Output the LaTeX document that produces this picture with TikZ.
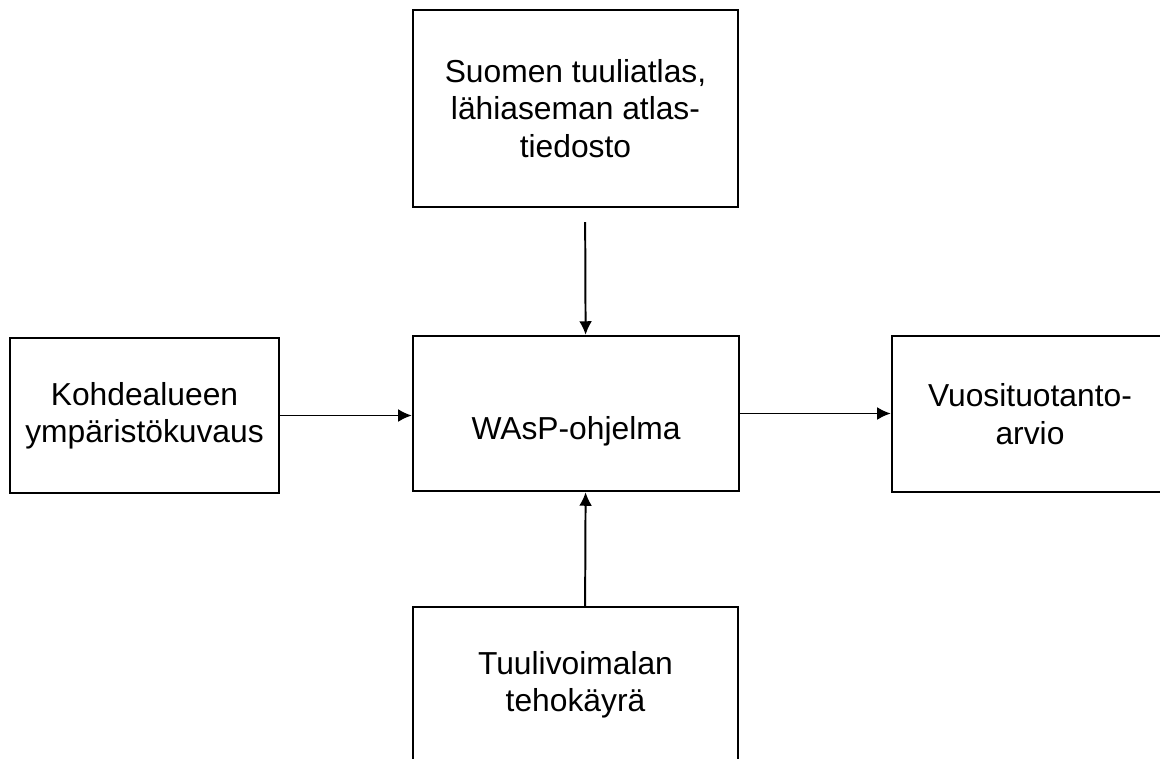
\documentclass[tikz,border=0pt]{standalone}
\usepackage{fontspec}
\setmainfont{Liberation Sans}
\usetikzlibrary{arrows.meta}
\begin{document}
\begin{tikzpicture}[x=0.025cm,y=-0.025cm,
  box/.style={draw, rectangle, line width=1.6pt, align=center, inner sep=0pt,
    font=\fontsize{22.6pt}{26.6pt}\selectfont},
  arr/.style={line width=1.4pt, -{Latex[length=0.34cm,width=0.32cm]}}]
\useasboundingbox[fill=white] (0,0) rectangle (1160,758);
\node[box, minimum width=8.125cm, minimum height=4.925cm] (atlas) at (575.5,108.5) {Suomen tuuliatlas,\\lähiaseman atlas-\\tiedosto};
\node[box, minimum width=8.15cm, minimum height=3.875cm] (wasp) at (576,413.5) {\raisebox{-0.66cm}[0pt][0pt]{WAsP-ohjelma}};
\node[box, minimum width=6.725cm, minimum height=3.875cm] (kohde) at (144.5,415.5) {Kohdealueen\\ympäristökuvaus};
\node[box, minimum width=6.9cm, minimum height=3.9cm] (vuosi) at (1030,414) {Vuosituotanto-\\arvio};
\node[box, minimum width=8.125cm, minimum height=3.9cm] (tuuli) at (575.5,685) {Tuulivoimalan\\tehokäyrä};
\draw[arr, shorten <=0.35cm] ([xshift=0.24cm]atlas.south) -- ([xshift=0.24cm]wasp.north);
\draw[arr] ([xshift=0.24cm]tuuli.north) -- ([xshift=0.24cm]wasp.south);
\draw[arr] (kohde.east) -- (kohde.east -| wasp.west);
\draw[arr] (wasp.east) -- (wasp.east -| vuosi.west);
\end{tikzpicture}
\end{document}
